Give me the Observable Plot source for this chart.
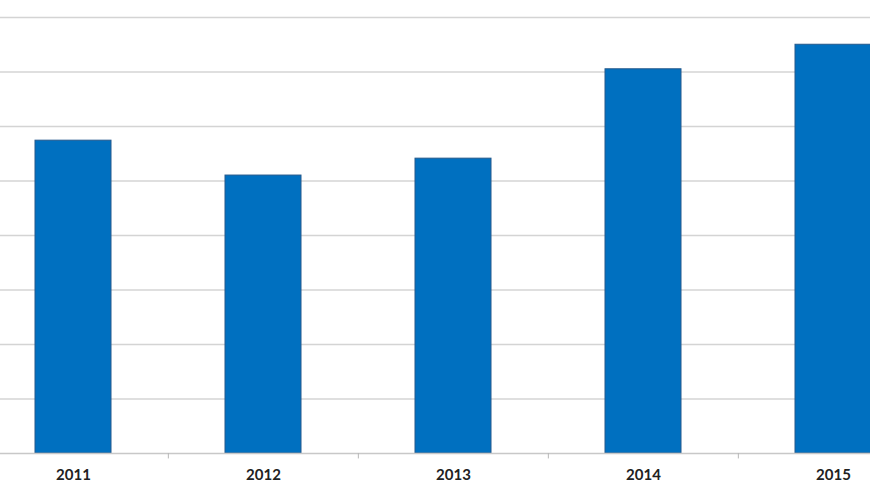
<!DOCTYPE html>
<html>
<head>
<meta charset="utf-8">
<script src="https://cdn.jsdelivr.net/npm/d3@7"></script>
<script src="https://cdn.jsdelivr.net/npm/@observablehq/plot@0.6"></script>
<style>
  html, body { margin: 0; padding: 0; background: #fff; }
  #chart { width: 870px; height: 500px; overflow: hidden; }
</style>
</head>
<body>
<div id="chart"></div>
<script>
const years = ["2011", "2012", "2013", "2014", "2015"];
const values = [5.74, 5.10, 5.41, 7.05, 7.50];
const gridLevels = [1, 2, 3, 4, 5, 6, 7, 8];

const data = years.map((year, i) => ({year, value: values[i]}));
const bandStep = 190.3;

const chart = Plot.plot({
  width: 870,
  height: 500,
  marginLeft: 0,
  marginRight: 0,
  marginTop: 17,
  marginBottom: 47,
  style: {background: "#fff", fontFamily: "Lato, 'Open Sans', sans-serif"},
  x: {domain: years, range: [-23.5, 928.6], paddingInner: 0.6, paddingOuter: 0.3, align: 0.5, label: null},
  y: {domain: [0, 8], range: [453, 17], axis: null},
  marks: [
    Plot.ruleY(gridLevels, {stroke: "#d4d4d4", strokeWidth: 1.5}),
    Plot.barY(data, {x: "year", y: "value", fill: "#0070C0", stroke: "#24598c", strokeWidth: 1}),
    Plot.ruleY([0], {stroke: "#c8c8c8", strokeWidth: 1.5}),
    Plot.ruleX(years.slice(1), {x: d => d, dx: -bandStep / 2, y1: 0, y2: -0.1, stroke: "#b8b8b8", strokeWidth: 1}),
    Plot.axisX({tickSize: 0, tickPadding: 16, fontSize: 15, fontWeight: "bold", color: "#222", label: null})
  ]
});
document.getElementById("chart").appendChild(chart);
</script>
</body>
</html>
